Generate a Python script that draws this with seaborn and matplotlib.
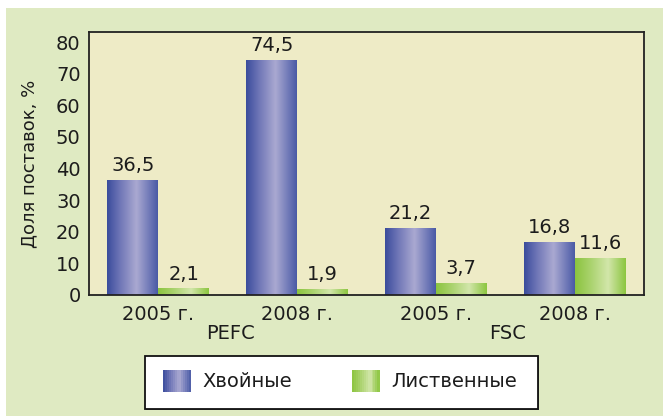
import numpy as np
import pandas as pd
import matplotlib
matplotlib.use("Agg")
import matplotlib.pyplot as plt
import seaborn as sns
from matplotlib.colors import LinearSegmentedColormap
from matplotlib.patches import Rectangle
from matplotlib.legend_handler import HandlerBase

# ---- data ----
categories = ["PEFC 2005 г.", "PEFC 2008 г.", "FSC 2005 г.", "FSC 2008 г."]
tick_labels = ["2005 г.", "2008 г.", "2005 г.", "2008 г."]
schemes = ["PEFC", "FSC"]
series_names = ["Хвойные", "Лиственные"]
coniferous = [36.5, 74.5, 21.2, 16.8]
deciduous = [2.1, 1.9, 3.7, 11.6]
y_ticks = [0, 10, 20, 30, 40, 50, 60, 70, 80]
y_label = "Доля поставок, %"

df = pd.DataFrame({
    "cat": categories * 2,
    "val": coniferous + deciduous,
    "series": [series_names[0]] * 4 + [series_names[1]] * 4,
})

sns.set_theme(style="white")
plt.rcParams["font.family"] = ["DejaVu Sans"]
TXT = "#1c1c1c"

W, H = 663, 416
fig = plt.figure(figsize=(W / 100, H / 100), dpi=100)
fig.patch.set_facecolor("white")
# outer green panel
fig.patches.append(Rectangle((6 / W, 0), 1 - 6 / W, 1 - 8 / H, transform=fig.transFigure,
                             facecolor="#DFEAC2", edgecolor="none", zorder=-10))

ax = fig.add_axes([89 / W, 1 - 295 / H, 555 / W, 263 / H])
ax.set_facecolor("#EEEBC6")

blue_cmap = LinearSegmentedColormap.from_list(
    "b", [(0, "#3A4C9C"), (0.25, "#6E75B6"), (0.58, "#AAA9D1"), (0.85, "#6C76B6"), (1, "#4A5AA5")])
green_cmap = LinearSegmentedColormap.from_list(
    "g", [(0, "#8BC43F"), (0.3, "#A9D26C"), (0.65, "#D2E6AA"), (0.88, "#A3D064"), (1, "#8CC63F")])
cmaps = [blue_cmap, green_cmap]

sns.barplot(data=df, x="cat", y="val", hue="series", hue_order=series_names,
            order=categories, width=0.735, gap=0, dodge=True, legend=False,
            palette=["#5D68AE", "#B4D77E"], ax=ax, saturation=1, linewidth=0)

grad = np.linspace(0, 1, 256)[None, :]
for cont, cmap in zip(ax.containers, cmaps):
    for p in cont.patches:
        p.set_linewidth(0)
        x0, y0 = p.get_x(), p.get_y()
        w, h = p.get_width(), p.get_height()
        im = ax.imshow(grad, cmap=cmap, extent=(x0, x0 + w, y0, y0 + h),
                       aspect="auto", zorder=p.get_zorder() + 0.1, interpolation="bilinear")
        im.set_clip_path(p)

# value labels
for cont, vals in zip(ax.containers, [coniferous, deciduous]):
    ax.bar_label(cont, labels=[f"{v:.1f}".replace(".", ",") for v in vals],
                 padding=3.5, fontsize=14, color=TXT)

ax.set_xlim(-0.5, 3.5)
ax.set_ylim(0, 83.2)
ax.set_yticks(y_ticks)
ax.set_xticks(range(len(categories)))
ax.set_xticklabels(tick_labels)
ax.tick_params(axis="both", length=0, labelsize=14, labelcolor=TXT)
ax.tick_params(axis="y", pad=6)
ax.tick_params(axis="x", pad=7)
ax.set_xlabel("")
ax.set_ylabel(y_label, fontsize=13, color=TXT, labelpad=13)
for s in ax.spines.values():
    s.set_visible(True)
    s.set_color("#222222")
    s.set_linewidth(1.3)

# scheme labels under group pairs
for i, name in enumerate(schemes):
    ax.annotate(name, xy=(2 * i + 0.5, 0), xycoords=("data", "axes fraction"),
                xytext=(2, -28), textcoords="offset points", ha="center", va="center",
                fontsize=14, color=TXT)

# legend box
fig.patches.append(Rectangle((146 / W, 1 - 410 / H), 393 / W, 53 / H, transform=fig.transFigure,
                             facecolor="#666666", edgecolor="none", zorder=1))
fig.patches.append(Rectangle((145 / W, 1 - 409 / H), 393 / W, 53 / H, transform=fig.transFigure,
                             facecolor="white", edgecolor="#111111", linewidth=1.3, zorder=2))


class GradHandler(HandlerBase):
    def __init__(self, cmap, n=14):
        super().__init__()
        self.cmap = cmap
        self.n = n

    def create_artists(self, legend, orig_handle, xdescent, ydescent, width, height, fontsize, trans):
        arts = []
        for i in range(self.n):
            c = self.cmap((i + 0.5) / self.n)
            r = Rectangle((-xdescent + i * width / self.n, -ydescent), width / self.n + 0.2, height,
                          facecolor=c, edgecolor="none", transform=trans)
            arts.append(r)
        return arts


h1 = Rectangle((0, 0), 1, 1)
h2 = Rectangle((0, 0), 1, 1)
leg = fig.legend([h1, h2], series_names, loc="center",
                 bbox_to_anchor=(340 / W, 1 - 381 / H), ncol=2, frameon=False,
                 fontsize=14, handlelength=1.4, handleheight=1.35, handletextpad=0.6,
                 columnspacing=3.1, labelcolor=TXT,
                 handler_map={h1: GradHandler(blue_cmap), h2: GradHandler(green_cmap)})
leg.set_zorder(5)

fig.savefig("out.png", dpi=100, facecolor=fig.get_facecolor())
